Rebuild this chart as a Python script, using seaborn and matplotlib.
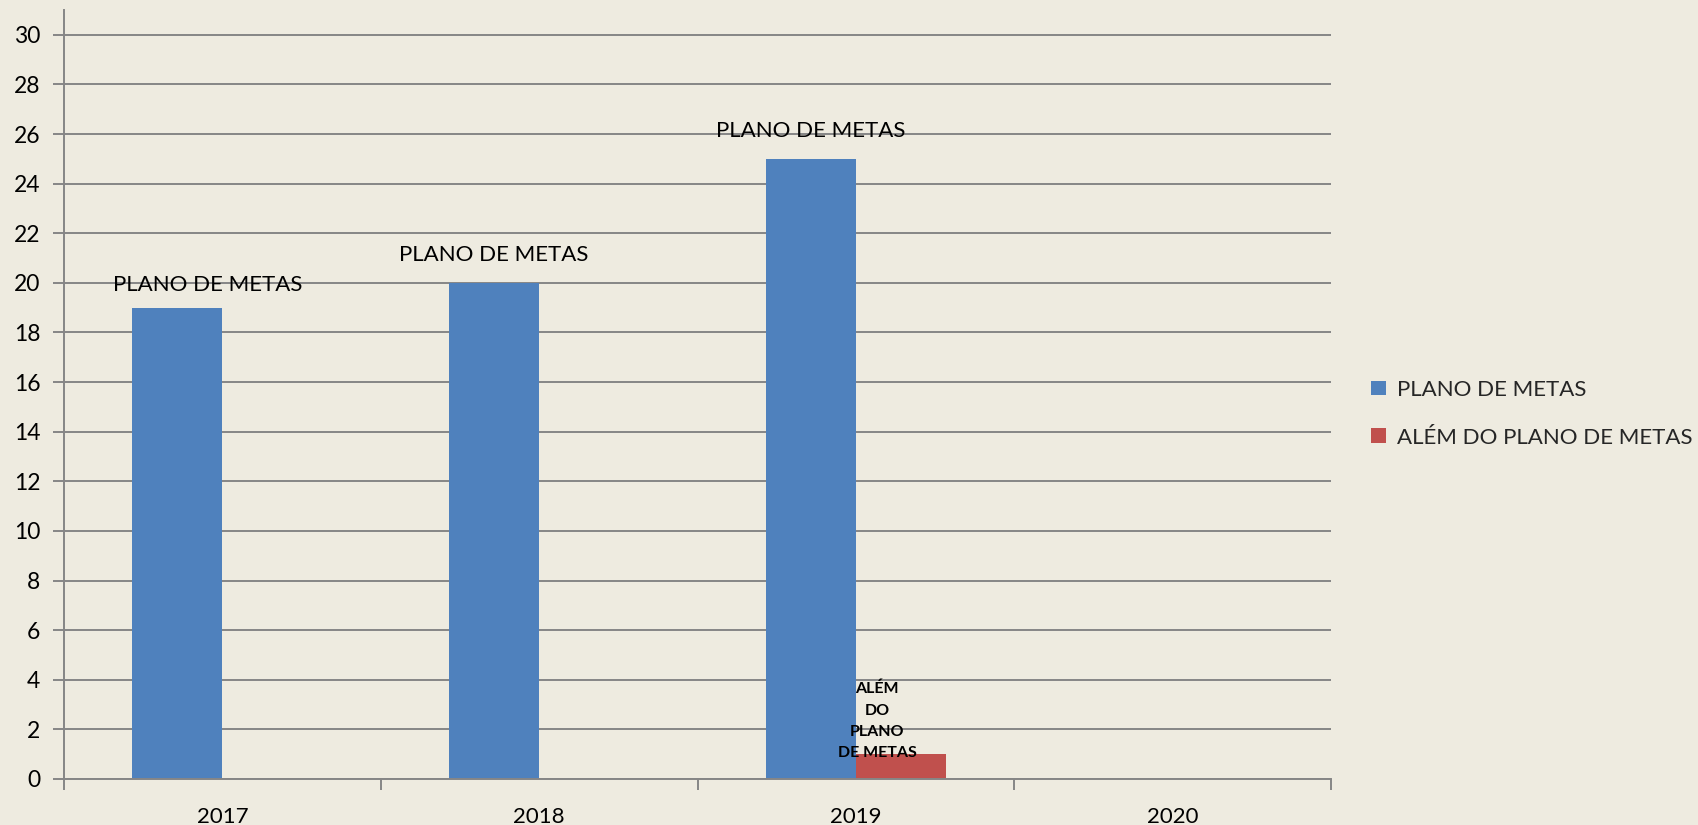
import matplotlib
matplotlib.use("Agg")
import matplotlib.pyplot as plt
import seaborn as sns
import pandas as pd
import numpy as np
from matplotlib.ticker import FixedLocator

years = ["2017", "2018", "2019", "2020"]
plano = [19, 20, 25, np.nan]
alem = [np.nan, np.nan, 1, np.nan]
series_names = ["PLANO DE METAS", "ALÉM DO PLANO DE METAS"]
colors = ["#4F81BD", "#C0504D"]

df = pd.DataFrame({
    "ano": years * 2,
    "serie": [series_names[0]] * 4 + [series_names[1]] * 4,
    "valor": plano + alem,
})

bg = "#EEEBE0"
grid_c = "#868686"

sns.set_theme(style="white")
plt.rcParams["font.family"] = ["Lato", "DejaVu Sans"]

fig = plt.figure(figsize=(16.98, 8.25), dpi=100, facecolor=bg)
ax = fig.add_axes([0.0377, 0.0558, 0.7462, 0.9321])
ax.set_facecolor(bg)

sns.barplot(data=df, x="ano", y="valor", hue="serie", order=years,
            hue_order=series_names, palette=colors, width=0.568, gap=0,
            saturation=1, ax=ax, legend=True, edgecolor="none")

ax.set_xlim(-0.5, 3.5)
ax.set_ylim(0, 31)
ax.set_yticks(range(0, 31, 2))
ax.yaxis.grid(True, color=grid_c, linewidth=1.4)
ax.set_axisbelow(True)
ax.set_xlabel("")
ax.set_ylabel("")
for s in ["top", "right"]:
    ax.spines[s].set_visible(False)
for s in ["left", "bottom"]:
    ax.spines[s].set_color(grid_c)
    ax.spines[s].set_linewidth(1.4)

ax.tick_params(axis="y", which="major", length=8, width=1.4, color=grid_c,
               left=True, labelsize=16.5, pad=9, labelcolor="black")
ax.tick_params(axis="x", which="major", length=0, labelsize=16, pad=20,
               labelcolor="black")
ax.xaxis.set_minor_locator(FixedLocator([-0.5, 0.5, 1.5, 2.5, 3.5]))
ax.tick_params(axis="x", which="minor", length=8, width=1.4, color=grid_c,
               bottom=True)

# data labels
blue_offsets = [(22, 16), (0, 20), (0, 20)]
for i, v in enumerate(plano):
    if np.isnan(v):
        continue
    dx, dy = blue_offsets[i] if i < len(blue_offsets) else (0, 18)
    ax.annotate(series_names[0], xy=(i - 0.142, v), xytext=(dx, dy),
                textcoords="offset points", ha="center", va="center",
                fontsize=16, color="black")
for i, v in enumerate(alem):
    if np.isnan(v):
        continue
    ax.annotate("ALÉM\nDO\nPLANO\nDE METAS", xy=(i + 0.142, v), xytext=(-17, 24),
                textcoords="offset points", ha="center", va="center",
                fontsize=11.5, fontweight="bold", color="black", linespacing=1.65)

ax.legend(loc="center left", bbox_to_anchor=(1.016, 0.475), frameon=False,
          fontsize=16, handlelength=0.65, handleheight=0.65,
          handletextpad=0.5, labelspacing=1.25)

fig.savefig("out.png", dpi=100, facecolor=bg)
